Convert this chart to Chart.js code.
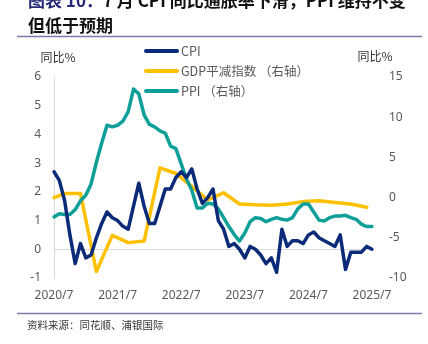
<!DOCTYPE html>
<html lang="zh">
<head>
    <meta charset="UTF-8">
    <title>7月 CPI 同比通胀率下滑</title>
    <style>
        body {
            margin: 0;
            background-color: white;
        }
        #chart {
            display: block;
        }
    </style>
    <script src="https://cdn.jsdelivr.net/npm/chart.js"></script>
</head>
<body>
    <canvas id="chart" width="428" height="344"></canvas>

    <script>
        // 月份：2020/7 - 2025/7
        const months = [];
        for (let y = 2020, m = 7; y < 2025 || (y === 2025 && m <= 7); m++) {
            if (m > 12) { m = 1; y++; }
            months.push(y + '/' + m);
        }

        // CPI 同比 (%)，左轴
        const cpi = [
            2.7, 2.4, 1.7, 0.5, -0.5, 0.2,
            -0.3, -0.2, 0.4, 0.9, 1.3, 1.1, 1.0, 0.8, 0.7, 1.5, 2.3, 1.5,
            0.9, 0.9, 1.5, 2.1, 2.1, 2.5, 2.7, 2.5, 2.8, 2.1, 1.6, 1.8,
            2.1, 1.0, 0.7, 0.1, 0.2, 0.0, -0.3, 0.1, 0.0, -0.2, -0.5, -0.3,
            -0.8, 0.7, 0.1, 0.3, 0.3, 0.2, 0.5, 0.6, 0.4, 0.3, 0.2, 0.1,
            0.5, -0.7, -0.1, -0.1, -0.1, 0.1, 0.0
        ];

        // PPI 同比 (%)，右轴
        const ppi = [
            -2.4, -2.0, -2.1, -2.1, -1.5, -0.4,
            0.3, 1.7, 4.4, 6.8, 9.0, 8.8, 9.0, 9.5, 10.7, 13.5, 12.9, 10.3,
            9.1, 8.8, 8.3, 8.0, 6.4, 6.1, 4.2, 2.3, 0.9, -1.3, -1.3, -0.7,
            -0.8, -1.4, -2.5, -3.6, -4.6, -5.4, -4.4, -3.0, -2.5, -2.6, -3.0, -2.7,
            -2.5, -2.7, -2.8, -2.5, -1.4, -0.8, -0.8, -1.8, -2.8, -2.9, -2.5, -2.3,
            -2.3, -2.2, -2.5, -2.7, -3.3, -3.6, -3.6
        ];

        // GDP 平减指数 (%)，季度，右轴
        const gdpMonths = [
            '2020/7', '2020/9', '2020/12', '2021/3', '2021/6', '2021/9', '2021/12',
            '2022/3', '2022/6', '2022/9', '2022/12', '2023/3', '2023/6', '2023/9',
            '2023/12', '2024/3', '2024/6', '2024/9', '2024/12', '2025/3', '2025/6'
        ];
        const gdpDeflator = [
            0.0, 0.5, 0.5, -9.2, -4.7, -5.6, -5.4,
            3.7, 3.0, 1.4, -0.3, 0.6, -0.8, -0.9,
            -0.95, -0.8, -0.5, -0.4, -0.6, -0.8, -1.2
        ];

        const leftTicks = { min: -1, max: 6, step: 1 };
        const rightTicks = { min: -10, max: 15, step: 5 };

        const NAVY = '#0b2a78';
        const GOLD = '#ffc000';
        const TEAL = '#0e9f98';
        const TICK_GRAY = '#595959';
        const RULE = '#7e7aa9';

        const tickFont = { family: "'Noto Sans', 'Noto Sans CJK SC', sans-serif", size: 12 };
        const cjk = "'Noto Sans CJK SC', sans-serif";

        // 标题、图例、单位、来源
        const decorations = {
            id: 'decorations',
            afterDraw(chart) {
                const ctx = chart.ctx;
                ctx.save();

                // 标题
                ctx.textBaseline = 'middle';
                ctx.textAlign = 'left';
                ctx.font = 'bold 17px ' + cjk;
                const head = '图表 10：';
                ctx.fillStyle = '#262a78';
                ctx.fillText(head, 28, 1);
                const w = ctx.measureText(head).width;
                ctx.fillStyle = '#111';
                ctx.fillText('7 月 CPI 同比通胀率下滑，PPI 维持不变', 28 + w, 1);
                ctx.fillText('但低于预期', 28, 26);

                // 分隔线
                ctx.strokeStyle = RULE;
                ctx.lineWidth = 1.5;
                ctx.beginPath();
                ctx.moveTo(17, 36.5); ctx.lineTo(422, 36.5);
                ctx.moveTo(17, 313.5); ctx.lineTo(422, 313.5);
                ctx.stroke();

                // 单位
                ctx.font = '12px ' + cjk;
                ctx.fillStyle = '#333';
                ctx.textAlign = 'center';
                ctx.fillText('同比%', 58, 57);
                ctx.fillText('同比%', 375, 56);

                // 图例
                ctx.textAlign = 'left';
                ctx.font = '12.5px ' + cjk;
                const rows = [0, 1, 2].map(i => chart.data.datasets[i]);
                rows.forEach((ds, i) => {
                    const y = 51 + i * 20;
                    ctx.strokeStyle = ds.borderColor;
                    ctx.lineWidth = 4;
                    ctx.lineCap = 'round';
                    ctx.beginPath();
                    ctx.moveTo(146, y); ctx.lineTo(177, y);
                    ctx.stroke();
                    ctx.fillStyle = TICK_GRAY;
                    ctx.fillText(ds.label, 181, y);
                });

                // 资料来源
                ctx.font = '10.5px ' + cjk;
                ctx.fillStyle = '#333';
                ctx.fillText('资料来源：同花顺、浦银国际', 27, 325);

                ctx.restore();
            }
        };

        new Chart(document.getElementById('chart'), {
            type: 'line',
            data: {
                labels: months,
                datasets: [
                    {
                        label: 'CPI',
                        data: cpi,
                        yAxisID: 'y',
                        borderColor: NAVY,
                        order: 1
                    },
                    {
                        label: 'GDP平减指数 （右轴）',
                        data: gdpMonths.map((m, i) => ({ x: m, y: gdpDeflator[i] })),
                        yAxisID: 'y1',
                        borderColor: GOLD,
                        spanGaps: true,
                        order: 3
                    },
                    {
                        label: 'PPI （右轴）',
                        data: ppi,
                        yAxisID: 'y1',
                        borderColor: TEAL,
                        order: 2
                    }
                ]
            },
            options: {
                responsive: false,
                animation: false,
                events: [],
                layout: { padding: { top: 77, bottom: 41, left: 0, right: 0 } },
                elements: {
                    line: { borderWidth: 3.5, tension: 0, borderJoinStyle: 'round', borderCapStyle: 'round' },
                    point: { radius: 0 }
                },
                plugins: {
                    legend: { display: false },
                    tooltip: { enabled: false }
                },
                scales: {
                    x: {
                        offset: false,
                        grid: { display: false, drawTicks: false },
                        border: { display: false },
                        afterFit(scale) { scale.height = 25; },
                        ticks: {
                            autoSkip: false,
                            maxRotation: 0,
                            padding: 10,
                            color: TICK_GRAY,
                            font: tickFont,
                            callback: (v, i) => (i % 12 === 0 ? months[i] : '')
                        }
                    },
                    y: {
                        position: 'left',
                        min: leftTicks.min,
                        max: leftTicks.max,
                        afterFit(scale) { scale.width = 54; },
                        border: { display: true, color: '#d9d9d9', width: 1 },
                        grid: {
                            drawTicks: false,
                            color: c => (c.tick && c.tick.value === 0 ? '#d9d9d9' : 'rgba(0,0,0,0)')
                        },
                        ticks: {
                            stepSize: leftTicks.step,
                            padding: 13,
                            color: TICK_GRAY,
                            font: tickFont
                        }
                    },
                    y1: {
                        position: 'right',
                        min: rightTicks.min,
                        max: rightTicks.max,
                        afterFit(scale) { scale.width = 56; },
                        border: { display: false },
                        grid: { display: false, drawTicks: false },
                        ticks: {
                            stepSize: rightTicks.step,
                            padding: 17,
                            color: TICK_GRAY,
                            font: tickFont
                        }
                    }
                }
            },
            plugins: [decorations]
        });
    </script>
</body>
</html>
